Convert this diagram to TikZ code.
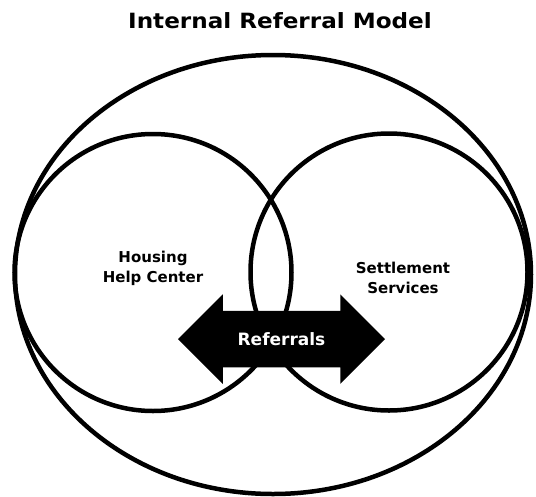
\documentclass[tikz,border=0pt]{standalone}
\usepackage{fontspec}
\setmainfont{DejaVu Sans}
\newfontfamily\titlefont[FakeStretch=1.1]{DejaVu Sans}
\usetikzlibrary{shapes.geometric,shapes.arrows}

\begin{document}
\begin{tikzpicture}[x=1pt,y=-1pt,line width=4.5pt,
  ring node/.style={circle,draw,minimum size=277pt,inner sep=0pt},
  label node/.style={align=center,font=\bfseries\fontsize{15}{20}\selectfont}]
  	\useasboundingbox (0,0) rectangle (536,496);
  	
  	\node[font=\titlefont\bfseries\fontsize{21}{25}\selectfont] at (280,21) (title) {Internal Referral Model};
  	
  	\node[ellipse,draw,minimum width=516pt,minimum height=439pt,inner sep=0pt] at (273,274.5) (model) {};
  	
  	\node[ring node] at (153,272.5) (hhc) {};
  	\node[ring node] at (389,272) (ss) {};
  	
  	\node[label node] at (153,268) (hhc text) {Housing\\Help Center};
  	\node[label node] at (403,278) (ss text) {Settlement\\Services};
  	
  	\node[double arrow,fill=black,draw=none,text=white,
  	  font=\bfseries\fontsize{17}{20}\selectfont,
  	  text height=13pt,text depth=0pt,inner xsep=0pt,inner ysep=19.5pt,
  	  double arrow head extend=16.5pt,minimum height=207pt] at (281.5,339) (ref) {Referrals};
\end{tikzpicture}
\end{document}
